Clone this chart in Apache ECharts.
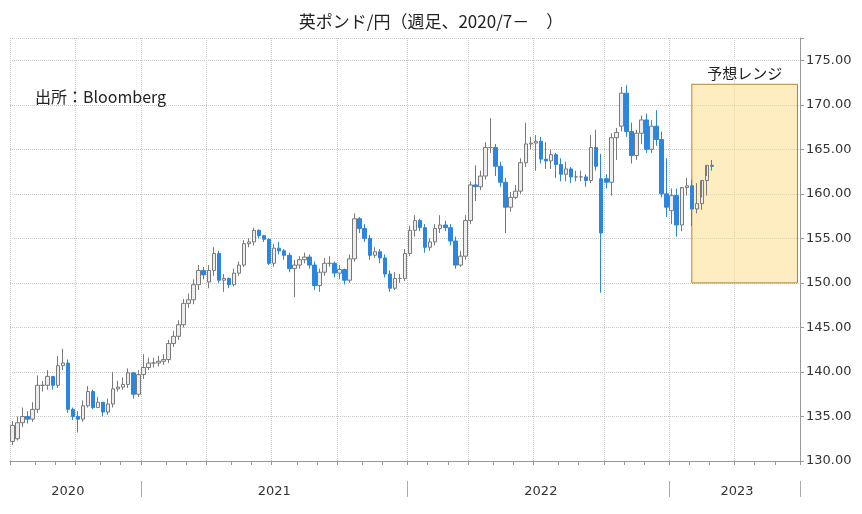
<!DOCTYPE html>
<html><head><meta charset="utf-8">
<script src="https://cdn.jsdelivr.net/npm/echarts@6/dist/echarts.min.js"></script>
<style>html,body{margin:0;padding:0;background:#fff}#c{width:862px;height:514px}</style>
</head><body><div id="c"></div>
<script>
const titleText = '英ポンド/円（週足、2020/7－　）';
const sourceText = '出所：Bloomberg';
const startDate = '2020-07-03';
const totalWeeks = 157;
const closes = [134.0,134.3,135.0,134.7,135.8,138.5,138.5,139.5,138.5,140.7,
141.0,135.8,135.0,134.7,136.2,137.8,136.0,136.6,135.5,136.4,
138.1,138.3,138.6,139.9,137.5,139.7,140.5,141.0,141.0,141.2,
141.4,143.2,144.0,145.3,147.7,148.1,149.8,151.4,150.9,151.4,
153.3,150.3,150.5,149.8,151.1,152.0,154.4,154.6,155.9,155.3,
154.9,152.2,153.9,153.6,153.1,151.6,152.0,152.6,152.9,152.0,
149.7,151.2,152.2,152.2,151.1,151.5,150.3,152.7,157.2,156.1,
155.0,153.1,153.5,152.8,151.0,149.4,150.5,150.5,153.3,155.9,
157.0,156.2,154.0,154.6,156.1,156.5,156.2,154.7,152.0,153.0,
157.0,161.0,160.8,162.0,165.2,165.2,163.1,161.3,158.5,159.6,
160.3,163.5,165.6,165.7,165.9,163.9,163.7,164.4,163.3,162.2,
162.8,161.9,161.9,161.9,161.5,165.2,163.1,155.6,161.3,166.3,
166.9,171.3,167.0,164.3,166.8,168.3,165.0,167.6,166.1,160.0,
158.5,159.8,156.5,160.7,160.9,158.3,158.9,161.5,163.2,163.1];
const opens = [132.2,132.5,134.3,135.0,134.7,135.8,138.5,138.5,139.5,138.5,
140.7,141.0,135.8,135.0,134.7,136.2,137.8,136.0,136.6,135.5,
136.4,138.1,138.3,138.6,139.9,137.5,139.7,140.5,141.0,141.0,
141.2,141.4,143.2,144.0,145.3,147.7,148.1,149.8,151.4,150.1,
151.4,153.3,150.3,150.5,149.8,151.1,152.0,154.4,154.6,155.9,
155.3,154.9,152.2,153.9,153.6,153.1,151.6,152.0,152.6,152.9,
152.0,149.7,151.2,152.2,152.2,151.1,151.5,150.3,152.7,157.2,
156.1,155.0,153.1,153.5,152.8,151.0,149.4,150.5,150.5,153.3,
155.9,157.0,156.2,154.0,154.6,156.1,156.5,156.2,154.7,152.0,
153.0,157.0,161.0,160.8,162.0,165.2,165.2,163.1,161.3,158.5,
159.6,160.3,163.5,165.6,165.7,165.9,163.9,163.7,164.4,163.3,
162.2,162.8,161.9,161.9,161.9,161.5,165.2,161.7,161.7,161.3,
166.3,167.6,171.3,167.0,164.3,166.8,168.3,165.0,167.6,166.1,
160.0,158.1,159.8,156.5,160.7,160.9,158.3,158.9,161.5,163.2];
const highs = [134.5,135.0,136.0,135.6,136.6,139.6,139.0,140.2,139.2,141.8,
142.6,141.4,136.0,135.6,136.8,138.4,138.0,137.2,136.4,137.0,
140.0,139.0,139.4,140.4,140.0,140.2,142.0,141.6,141.6,141.8,
142.0,143.6,144.6,145.8,148.2,148.8,150.4,152.0,151.8,152.0,
154.0,153.6,151.0,150.6,151.6,152.4,154.8,155.0,156.2,156.0,
155.4,155.0,154.4,154.6,153.8,153.4,152.6,153.0,153.4,153.2,
152.4,151.6,152.8,153.0,152.4,152.0,151.6,153.2,157.8,157.4,
156.6,155.4,154.0,153.8,153.2,151.4,151.2,151.0,153.8,156.4,
157.6,157.2,156.6,155.0,156.6,157.6,157.0,156.6,155.2,153.6,
157.6,161.4,163.2,162.6,165.8,168.5,165.6,163.6,161.8,160.2,
161.0,164.0,168.0,166.4,166.6,166.4,165.8,165.0,164.6,164.0,
163.6,163.0,162.6,162.6,162.2,166.6,167.2,164.5,162.2,166.8,
167.4,172.0,172.2,168.0,167.2,168.8,169.0,168.3,169.4,167.0,
164.0,160.6,160.6,160.6,161.8,161.6,161.2,159.6,162.0,163.8];
const lows = [131.8,132.3,133.8,134.2,134.4,135.4,137.8,138.0,138.0,138.2,
140.2,135.4,134.6,133.2,134.4,136.0,135.8,136.0,135.0,135.2,
136.0,137.8,138.0,138.2,137.0,137.2,139.2,140.2,140.5,140.6,
140.8,141.0,142.8,143.6,145.0,147.2,147.6,149.2,150.4,149.4,
150.8,150.0,149.0,149.4,149.6,150.8,151.8,154.0,154.2,155.0,
154.6,152.0,151.8,153.2,152.6,151.2,148.4,151.6,152.2,151.6,
149.2,149.0,150.8,151.8,150.6,150.4,149.8,150.0,152.4,155.6,
154.6,152.6,152.8,152.2,150.6,149.0,149.2,150.0,150.2,153.0,
155.2,155.8,153.4,153.6,154.2,155.6,155.8,154.2,151.6,151.8,
152.6,156.6,159.2,160.4,161.6,164.6,162.0,160.8,155.6,158.0,
159.4,160.0,163.0,165.0,162.6,163.4,162.8,162.8,161.8,161.4,
161.4,161.2,161.4,161.4,160.8,161.2,162.6,148.9,160.6,159.8,
163.8,167.0,166.4,163.4,163.8,165.6,164.6,164.6,165.4,159.6,
157.4,156.6,155.2,155.8,159.8,156.4,157.8,158.2,159.8,162.6];
const yTickMin = 130, yTickMax = 177.5, yTickStep = 5;
const lastPrice = 163.03;
const rangeLow = 150, rangeHigh = 172.3, rangeStartWeek = 135;
const yearLabelWeeks = [11, 52, 105, 144];

const cats = [];
const d0 = new Date(startDate + 'T00:00:00Z');
for (let i = 0; i < totalWeeks; i++) {
  const d = new Date(d0.getTime() + i * 7 * 86400000);
  cats.push(d.toISOString().slice(0, 10));
}
const candles = cats.map((c, i) => i < closes.length ? [opens[i], closes[i], lows[i], highs[i]] : '-');
const isQuarterStart = (v) => { const m = +v.slice(5,7), dd = +v.slice(8,10); return [1,4,7,10].includes(m) && dd <= 7; };
const isMonthStart = (v) => +v.slice(8,10) <= 7;
const isYearStart = (v) => +v.slice(5,7) === 1 && +v.slice(8,10) <= 7;

const chart = echarts.init(document.getElementById('c'));
chart.setOption({
  animation: false,
  title: [
    {text: titleText, left: 'center', top: 8, textStyle: {fontSize: 17, fontWeight: 'normal', color: '#222', fontFamily: 'Noto Sans CJK JP'}},
    {text: sourceText, left: 30, top: 84, textStyle: {fontSize: 16, fontWeight: 'normal', color: '#222', fontFamily: 'Noto Sans CJK JP'}}
  ],
  grid: {left: 10, right: 62, top: 38, bottom: 53},
  xAxis: [{
    type: 'category', data: cats, boundaryGap: true,
    axisLine: {lineStyle: {color: '#999'}},
    axisTick: {show: true, length: 4, interval: (i, v) => isMonthStart(v), lineStyle: {color: '#999'}},
    axisLabel: {interval: (i) => yearLabelWeeks.includes(i), formatter: (v) => v.slice(0,4), margin: 24, fontSize: 13, color: '#333', fontFamily: 'Verdana, DejaVu Sans'},
    splitLine: {show: true, interval: (i, v) => isQuarterStart(v), lineStyle: {color: '#c8c8c8', type: 'dotted'}}
  }, {
    type: 'category', data: cats, boundaryGap: true, position: 'bottom', offset: 20,
    axisLine: {show: false},
    axisTick: {show: true, length: 16, interval: (i, v) => isYearStart(v), lineStyle: {color: '#aaa'}},
    axisLabel: {show: false}, splitLine: {show: false}
  }],
  yAxis: {
    type: 'value', position: 'right', min: yTickMin, max: yTickMax, interval: yTickStep,
    axisLine: {show: true, lineStyle: {color: '#999'}},
    axisTick: {show: true, length: 4},
    axisLabel: {formatter: (v) => v <= 175 ? v.toFixed(2) : '', fontSize: 13, color: '#333', margin: 6, fontFamily: 'Verdana, DejaVu Sans'},
    splitLine: {show: true, lineStyle: {color: '#c8c8c8', type: 'dotted'}}
  },
  series: [{
    type: 'candlestick', data: candles, barWidth: 4,
    itemStyle: {color: '#eeeeee', color0: '#2a86de', borderColor: '#7a7a7a', borderColor0: '#2a86de', borderWidth: 1},
    markArea: {
      silent: true,
      itemStyle: {color: 'rgba(253,222,140,0.55)', borderColor: '#a88a3c', borderWidth: 1},
      label: {show: true, position: 'top', distance: 3, color: '#222', fontSize: 15, fontFamily: 'Noto Sans CJK JP'},
      data: [[{name: '予想レンジ', xAxis: cats[rangeStartWeek], yAxis: rangeHigh}, {xAxis: cats[totalWeeks - 1], yAxis: rangeLow}]]
    },
    markLine: {
      silent: true, symbol: 'none', lineStyle: {opacity: 0},
      label: {show: true, position: 'end', formatter: lastPrice.toFixed(2), backgroundColor: '#111', color: '#fff', padding: [3, 3], fontSize: 13, distance: 4, fontFamily: 'Verdana, DejaVu Sans'},
      data: [{yAxis: lastPrice}]
    }
  }]
});
</script></body></html>
